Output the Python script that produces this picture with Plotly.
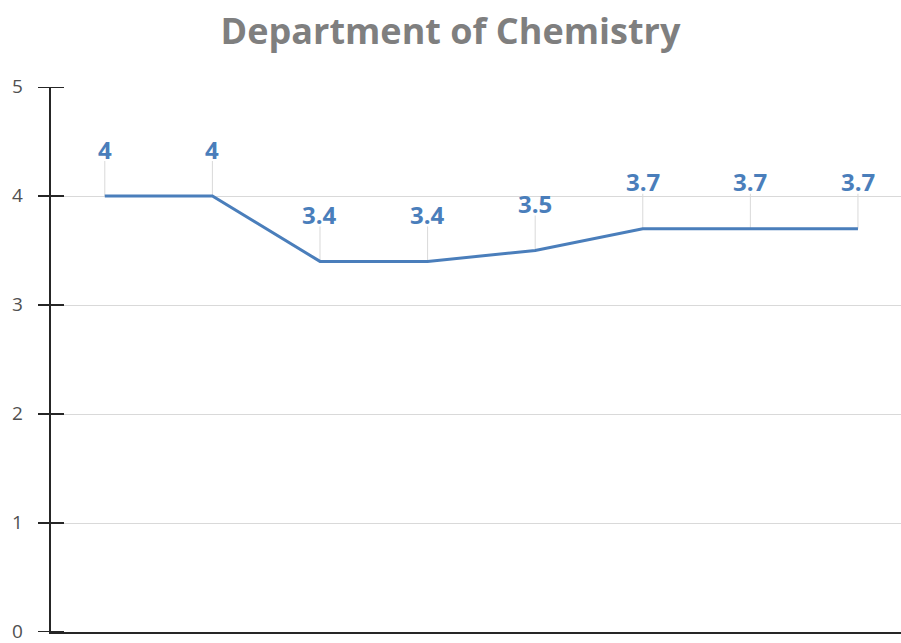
import plotly.graph_objects as go

# values
points = [0, 1, 2, 3, 4, 5, 6, 7]
scores = [4, 4, 3.4, 3.4, 3.5, 3.7, 3.7, 3.7]
y_ticks = [0, 1, 2, 3, 4, 5]

blue = '#4a7ebb'

fig = go.Figure()
fig.add_trace(go.Scatter(x=points, y=scores, mode='lines',
                         line=dict(color=blue, width=3), hoverinfo='skip'))

for x, v in zip(points, scores):
    # leader line
    fig.add_shape(type='line', xref='x', yref='y', ysizemode='pixel', yanchor=v,
                  x0=x, x1=x, y0=0, y1=35, line=dict(color='#d9d9d9', width=1), layer='below')
    fig.add_annotation(x=x, y=v, yshift=47, text='<b>{}</b>'.format(v), showarrow=False,
                       font=dict(family='Open Sans', size=24, color=blue))

# cross tick marks + tick labels on the value axis
for t in y_ticks:
    fig.add_shape(type='line', xref='x domain', yref='y', xsizemode='pixel', xanchor=0,
                  x0=-13, x1=13, y0=t, y1=t, line=dict(color='#262626', width=2), layer='above')
    fig.add_annotation(xref='paper', x=0, xshift=-34, y=t, yshift=1, text=str(t), showarrow=False,
                       xanchor='center', yanchor='middle',
                       font=dict(family='Open Sans', size=19, color='#505050'))

fig.update_layout(
    width=901, height=643,
    margin=dict(l=51, r=0, t=87, b=11),
    plot_bgcolor='white', paper_bgcolor='white',
    showlegend=False,
    title=dict(text='<b>Department of Chemistry</b>', x=0.5, xanchor='center',
               y=1 - 31 / 643, yref='container', yanchor='middle',
               font=dict(family='Open Sans', size=36, color='#7f7f7f')),
    xaxis=dict(range=[-0.5, 7.4], showgrid=False, showticklabels=False, zeroline=False,
               showline=True, linecolor='#262626', linewidth=2, ticks='', automargin=False),
    yaxis=dict(range=[0, 5], tickvals=y_ticks, showgrid=True, gridcolor='#d9d9d9', gridwidth=1,
               zeroline=False, showline=True, linecolor='#262626', linewidth=2,
               ticks='', showticklabels=False, automargin=False),
)

fig.write_html("out.html", config={'displayModeBar': False},
               post_script="document.body.style.margin='0';document.body.style.overflow='hidden';")
